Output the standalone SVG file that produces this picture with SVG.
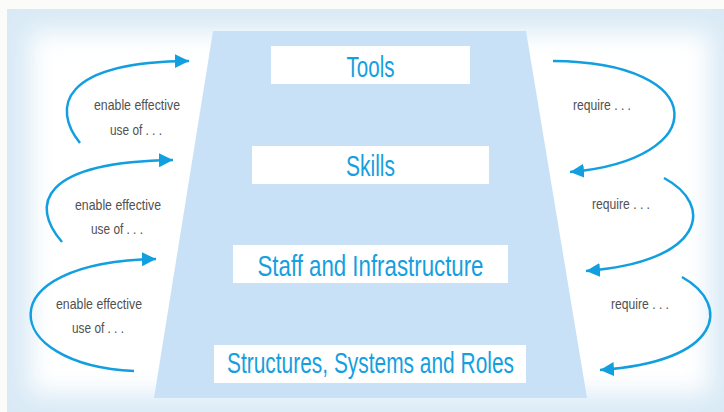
<svg xmlns="http://www.w3.org/2000/svg" width="724" height="412" viewBox="0 0 724 412">
<defs>
<filter id="soft" x="-20%" y="-20%" width="140%" height="140%"><feGaussianBlur stdDeviation="12"/></filter>
<marker id="ah" markerUnits="userSpaceOnUse" markerWidth="16" markerHeight="16" refX="14" refY="7" orient="auto"><path d="M0,0 L14,7 L0,14 z" fill="#129fdf"/></marker>
<style>
.box{fill:#ffffff}
.title{font-family:"Liberation Sans",Arial,sans-serif;font-size:29px;fill:#159fe0;text-anchor:middle}
.lbl{font-family:"Liberation Sans",Arial,sans-serif;font-size:15px;fill:#505050;text-anchor:middle}
.arr{fill:none;stroke:#129fdf;stroke-width:2.5;marker-end:url(#ah)}
</style>
</defs>
<rect width="724" height="412" fill="#fbfbfa"/>
<rect x="7" y="9" width="717" height="403" fill="#d9eaf6"/>
<rect x="30" y="32" width="680" height="362" fill="#ffffff" filter="url(#soft)"/>
<polygon points="213,31 526,31 587,398 154,398" fill="#c9e1f6"/>
<g id="node-tools"><rect class="box" x="271" y="46" width="199" height="38"/><text class="title" x="370.5" y="77" textLength="48" lengthAdjust="spacingAndGlyphs">Tools</text></g>
<g id="node-skills"><rect class="box" x="252" y="146" width="237" height="38"/><text class="title" x="370.5" y="176" textLength="49" lengthAdjust="spacingAndGlyphs">Skills</text></g>
<g id="node-staff"><rect class="box" x="233" y="245" width="275" height="38"/><text class="title" x="370.5" y="276" textLength="226" lengthAdjust="spacingAndGlyphs">Staff and Infrastructure</text></g>
<g id="node-structures"><rect class="box" x="214" y="345" width="312" height="38"/><text class="title" x="370.5" y="373" textLength="287" lengthAdjust="spacingAndGlyphs">Structures, Systems and Roles</text></g>
<g id="connectors">
<path class="arr" d="M80,143 C52,108 60,62 189,61"/>
<path class="arr" d="M62,242 C30,205 40,162 173,160"/>
<path class="arr" d="M134,371 C0,365 -15,262 156,259"/>
<path class="arr" d="M553,61 C712,62 712,160 570,172"/>
<path class="arr" d="M664,178 C715,205 705,262 586,271"/>
<path class="arr" d="M682,277 C732,305 722,362 600,370"/>
<text class="lbl" x="137" y="110" textLength="86" lengthAdjust="spacingAndGlyphs">enable effective</text>
<text class="lbl" x="136" y="135" textLength="52" lengthAdjust="spacingAndGlyphs">use of . . .</text>
<text class="lbl" x="118" y="210" textLength="86" lengthAdjust="spacingAndGlyphs">enable effective</text>
<text class="lbl" x="117" y="234" textLength="52" lengthAdjust="spacingAndGlyphs">use of . . .</text>
<text class="lbl" x="99" y="309" textLength="86" lengthAdjust="spacingAndGlyphs">enable effective</text>
<text class="lbl" x="98" y="333" textLength="52" lengthAdjust="spacingAndGlyphs">use of . . .</text>
<text class="lbl" x="602" y="110" textLength="58" lengthAdjust="spacingAndGlyphs">require . . .</text>
<text class="lbl" x="621" y="209" textLength="58" lengthAdjust="spacingAndGlyphs">require . . .</text>
<text class="lbl" x="640" y="309" textLength="58" lengthAdjust="spacingAndGlyphs">require . . .</text>
</g>
</svg>
